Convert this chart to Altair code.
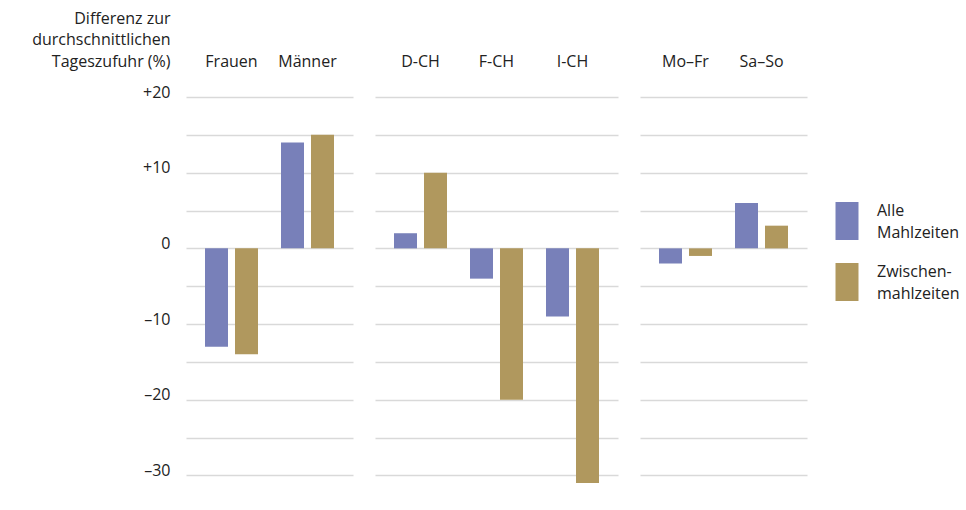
import altair as alt
import pandas as pd

groups = ["Geschlecht", "Geschlecht", "Sprachregion", "Sprachregion", "Sprachregion", "Wochentag", "Wochentag"]
categories = ["Frauen", "Männer", "D-CH", "F-CH", "I-CH", "Mo–Fr", "Sa–So"]
alle = [-13, 14, 2, -4, -9, -2, 6]
zwischen = [-14, 15, 10, -20, -31, -1, 3]
series = ["Alle Mahlzeiten", "Zwischenmahlzeiten"]
colors = ["#7880b9", "#b0985e"]
y_ticks = [-30, -25, -20, -15, -10, -5, 0, 5, 10, 15, 20]
y_title = ["Differenz zur", "durchschnittlichen", "Tageszufuhr (%)"]

rows = []
for g, c, a, z in zip(groups, categories, alle, zwischen):
    rows.append({"group": g, "category": c, "series": series[0], "value": a})
    rows.append({"group": g, "category": c, "series": series[1], "value": z})
df = pd.DataFrame(rows)

FONT = "Open Sans"
TXT = "#222222"

label_expr = ("datum.value % 10 != 0 ? '' : (datum.value > 0 ? '+' + datum.value : "
              "(datum.value < 0 ? '–' + abs(datum.value) : '0'))")

legend = alt.Legend(
    title=None, orient="none", legendX=642, legendY=100,
    symbolType="M-0.605,-0.737H0.605V1.263H-0.605Z", symbolSize=1444, symbolStrokeWidth=0,
    symbolOpacity=1, labelFontSize=16, labelFont=FONT, labelColor=TXT,
    labelBaseline="alphabetic",
    labelOffset=11, rowPadding=17, labelLimit=200, padding=0,
    labelExpr="datum.label == 'Alle Mahlzeiten' ? ['Alle', 'Mahlzeiten'] : ['Zwischen-', 'mahlzeiten']",
)


def panel(g, width, first):
    cats = [c for c, gg in zip(categories, groups) if gg == g]
    sub = df[df["group"] == g]
    if first:
        yaxis = alt.Axis(values=y_ticks, grid=True, ticks=False, tickSize=0, domain=False,
                         labelExpr=label_expr, labelPadding=16, labelBaseline="alphabetic",
                         labelFontSize=16, labelFont=FONT, labelColor=TXT,
                         title=y_title, titleAngle=0, titleAlign="right",
                         titleBaseline="alphabetic", titleX=-16, titleY=-74,
                         titleLineHeight=21.5, titleFontSize=16, titleFont=FONT,
                         titleFontWeight="normal", titleColor=TXT,
                         gridColor="#d9d9d9", gridWidth=1.5)
    else:
        yaxis = alt.Axis(values=y_ticks, grid=True, ticks=False, tickSize=0, domain=False,
                         labels=False, title=None, gridColor="#d9d9d9", gridWidth=1.5)
    return alt.Chart(sub).mark_bar().encode(
        x=alt.X("category:N", sort=cats, title=None,
                scale=alt.Scale(paddingInner=0, paddingOuter=0.0987),
                axis=alt.Axis(orient="top", ticks=False, tickSize=0, domain=False, grid=False,
                              labelAngle=0, labelPadding=31, labelBaseline="alphabetic",
                              labelFontSize=16, labelFont=FONT, labelColor=TXT)),
        xOffset=alt.XOffset("series:N", sort=series,
                            scale=alt.Scale(paddingInner=0.2333, paddingOuter=0.3833)),
        y=alt.Y("value:Q", scale=alt.Scale(domain=[-31, 20], nice=False, zero=False),
                axis=yaxis),
        color=alt.Color("series:N", sort=series,
                        scale=alt.Scale(domain=series, range=colors), legend=legend),
    ).properties(width=width, height=386)


chart = alt.hconcat(
    panel("Geschlecht", 167, True),
    panel("Sprachregion", 243, False),
    panel("Wochentag", 167, False),
    spacing=22,
).properties(
    padding={"left": 31, "top": 10, "right": 0, "bottom": 0}
).configure(
    font=FONT, style={"guide-label": {"lineHeight": 21.5}}
).configure_view(stroke="transparent", strokeWidth=0)

chart.save("out.html", embed_options={"renderer": "svg", "actions": False})
